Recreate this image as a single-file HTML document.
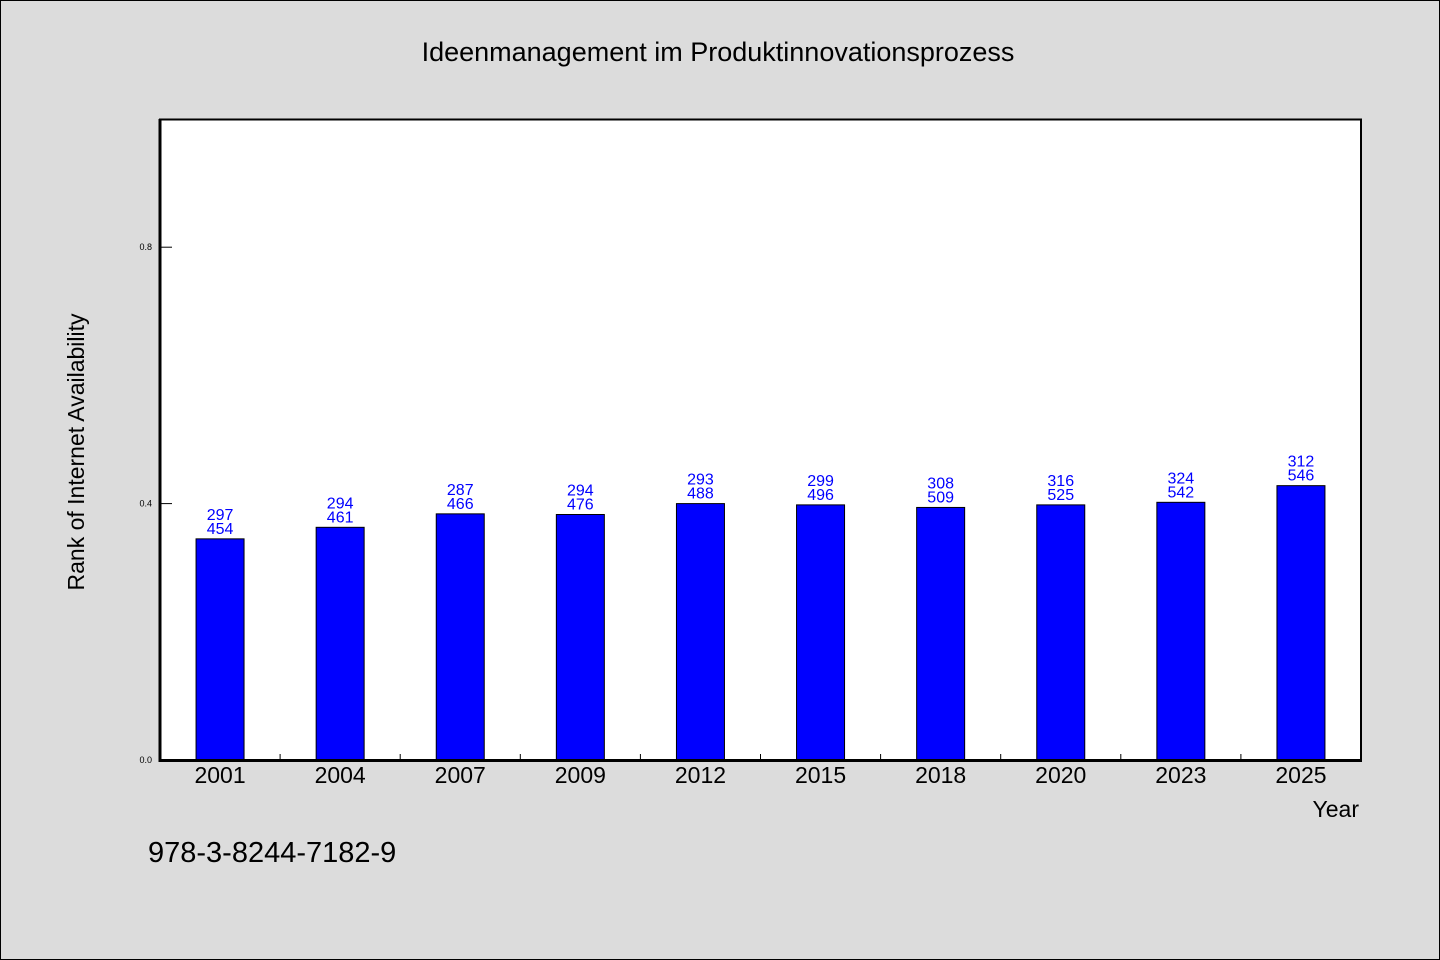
<!DOCTYPE html>
<html><head><meta charset="utf-8"><style>
html,body{margin:0;padding:0;background:#dcdcdc;}
svg{display:block;font-family:"WenQuanYi Zen Hei","Liberation Sans",sans-serif;}
</style></head><body>
<svg id="chart" width="1440" height="960" xmlns="http://www.w3.org/2000/svg">
<rect x="0.5" y="0.5" width="1439" height="959" fill="#dcdcdc" stroke="#000"/>
<text x="718" y="61" font-size="27" text-anchor="middle">Ideenmanagement im Produktinnovationsprozess</text>
<rect x="160" y="119" width="1201" height="641" fill="#fff"/>
<g id="bars"></g>
<g id="axes"></g>
<text transform="translate(84,452) rotate(-90)" font-size="23" text-anchor="middle">Rank of Internet Availability</text>
<text x="1359" y="817" font-size="23" text-anchor="end">Year</text>
<text x="148" y="862" font-size="29">978-3-8244-7182-9</text>
</svg>
<script>
const categories=["2001","2004","2007","2009","2012","2015","2018","2020","2023","2025"];
const values=[0.345,0.363,0.384,0.383,0.400,0.398,0.394,0.398,0.402,0.428];
const labelTop=["297","294","287","294","293","299","308","316","324","312"];
const labelBottom=["454","461","466","476","488","496","509","525","542","546"];
const yTicks=[0.0,0.4,0.8];
const yTickLabels=["0.0","0.4","0.8"];
const NS="http://www.w3.org/2000/svg";
const X0=160,X1=1361,Y0=760,Ytop=119,YMAX=1.0;
const band=(X1-X0)/categories.length;
function xc(i){return X0+band*(i+0.5);}
function y(v){return Y0-(Y0-Ytop)*v/YMAX;}
function mk(tag,attrs,parent){const e=document.createElementNS(NS,tag);for(const k in attrs)e.setAttribute(k,attrs[k]);parent.appendChild(e);return e;}
const bars=document.getElementById('bars'),axes=document.getElementById('axes');
categories.forEach((c,i)=>{
  const r=mk('rect',{x:xc(i)-24,y:y(values[i]),width:48,height:Y0-y(values[i]),fill:'#0000ff',stroke:'#000','stroke-width':1},bars);
  
  
  const t1=mk('text',{x:xc(i),y:y(values[i])-19,'font-size':16,fill:'#0000ff','text-anchor':'middle'},bars);
  t1.textContent=labelTop[i];
  
  
  const t2=mk('text',{x:xc(i),y:y(values[i])-5,'font-size':16,fill:'#0000ff','text-anchor':'middle'},bars);
  t2.textContent=labelBottom[i];
  
  
  const xl=mk('text',{x:xc(i),y:783,'font-size':23,'text-anchor':'middle'},axes);
  xl.textContent=c;
  
  
  if(i>0){const tk=mk('line',{x1:X0+band*i,x2:X0+band*i,y1:Y0,y2:Y0-6,stroke:'#000'},axes);
  
  }
});
yTicks.forEach((v,i)=>{
  const l=mk('line',{x1:X0,x2:X0+12,y1:y(v),y2:y(v),stroke:'#000'},axes);
  
  
  const t=mk('text',{x:152,y:y(v)+3,'font-size':9,'text-anchor':'end'},axes);
  t.textContent=yTickLabels[i];
  
  
});
const fr=mk('rect',{x:X0,y:Ytop+0.5,width:X1-X0,height:Y0-Ytop,fill:'none',stroke:'#000','stroke-width':2},axes);


const xa=mk('line',{x1:X0-1,x2:X1+1,y1:Y0+0.5,y2:Y0+0.5,stroke:'#000','stroke-width':3},axes);


const ya=mk('line',{x1:X0,x2:X0,y1:Ytop,y2:Y0+2,stroke:'#000','stroke-width':3},axes);


</script>
</body></html>
